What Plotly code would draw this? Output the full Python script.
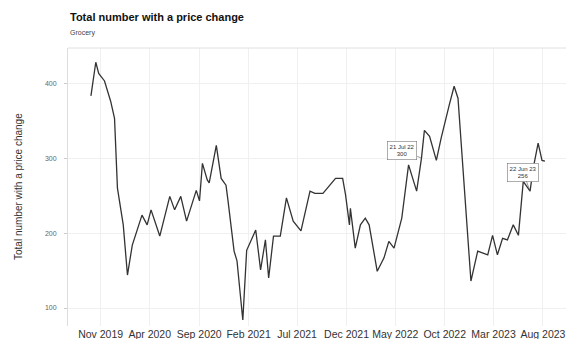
import plotly.graph_objects as go

dates = ["2019-10-02","2019-10-17","2019-10-26","2019-11-13","2019-12-02","2019-12-14","2019-12-23",
"2020-01-10","2020-01-23","2020-02-07","2020-03-08","2020-03-24","2020-04-05","2020-05-02","2020-06-02",
"2020-06-17","2020-07-06","2020-07-24","2020-08-23","2020-09-02","2020-09-11","2020-09-26","2020-10-02",
"2020-10-24","2020-11-08","2020-11-23","2020-11-29","2020-12-18","2020-12-27","2021-01-14","2021-01-26",
"2021-02-23","2021-03-10","2021-03-25","2021-04-04","2021-04-19","2021-05-10","2021-05-29","2021-06-19",
"2021-07-13","2021-08-10","2021-08-25","2021-09-19","2021-10-10","2021-10-28","2021-11-19","2021-11-28",
"2021-12-10","2021-12-13","2021-12-28","2022-01-13","2022-01-28","2022-02-09","2022-03-06","2022-03-27",
"2022-04-11","2022-04-27","2022-05-21","2022-06-11","2022-07-06","2022-07-21","2022-07-30","2022-08-15",
"2022-09-05","2022-09-20","2022-10-15","2022-10-30","2022-11-11","2022-12-21","2023-01-11","2023-02-11",
"2023-02-26","2023-03-13","2023-03-29","2023-04-13","2023-05-01","2023-05-17","2023-06-01","2023-06-22",
"2023-07-02","2023-07-17","2023-07-29","2023-08-07"]
values = [383,428,413,403,376,353,260,
211,144,184,224,211,231,196,249,
231,249,216,257,243,293,271,267,
317,273,264,244,176,163,84,177,
204,151,191,140,196,196,247,216,
203,256,253,253,263,273,273,251,
211,233,180,211,220,211,149,167,
189,180,220,291,256,300,337,329,
297,327,371,396,380,136,176,171,
197,171,193,191,211,197,269,256,
287,320,297,296]

tick_dates = ["2019-11-01","2020-04-01","2020-09-01","2021-02-01","2021-07-01",
              "2021-12-01","2022-05-01","2022-10-01","2023-03-01","2023-08-01"]
tick_labels = ["Nov 2019","Apr 2020","Sep 2020","Feb 2021","Jul 2021",
               "Dec 2021","May 2022","Oct 2022","Mar 2023","Aug 2023"]
y_ticks = [100, 200, 300, 400]

annot_dates = ["2022-07-21", "2023-06-22"]
annot_vals = [300, 256]
annot_text = ["21 Jul 22<br>300", "22 Jun 23<br>256"]
annot_offsets = [(-19, -8), (-7, -19)]

fig = go.Figure()
fig.add_trace(go.Scatter(x=dates, y=values, mode="lines",
                         line=dict(color="#333333", width=1.3), showlegend=False))

for d, v, t, (ax, ay) in zip(annot_dates, annot_vals, annot_text, annot_offsets):
    fig.add_annotation(x=d, y=v, text=t, showarrow=True, arrowhead=0, arrowwidth=0.6,
                       arrowcolor="#555", ax=ax, ay=ay, xanchor="center",
                       font=dict(size=6, color="#333", family="Liberation Sans"),
                       bordercolor="#777", borderwidth=0.6, bgcolor="white", borderpad=2)

fig.add_annotation(xref="paper", yref="paper", x=0, y=1, yshift=23, xanchor="left", yanchor="bottom",
                   text="<b>Total number with a price change</b>", showarrow=False,
                   font=dict(size=11, color="#111", family="Liberation Sans"))
fig.add_annotation(xref="paper", yref="paper", x=0, y=1, yshift=9, xanchor="left", yanchor="bottom",
                   text="Grocery", showarrow=False,
                   font=dict(size=7, color="#444", family="Liberation Sans"))
fig.add_annotation(xref="paper", yref="paper", x=0, y=0.5, xshift=-50, xanchor="center", yanchor="middle",
                   text="Total number with a price change", showarrow=False, textangle=-90,
                   font=dict(size=10, color="#333", family="Liberation Sans"))

fig.update_layout(
    width=574, height=339,
    margin=dict(l=60, r=8, t=40, b=21),
    paper_bgcolor="white", plot_bgcolor="white",
    font=dict(family="Liberation Sans", color="#333"),
    xaxis=dict(range=["2019-07-23", "2023-11-05"], tickvals=tick_dates, ticktext=tick_labels,
               tickfont=dict(size=10.5, color="#333"), showgrid=True, gridcolor="#f0f0f0",
               gridwidth=1, showline=False, zeroline=False, ticks="", tickangle=0,
               automargin=False, ticklabelstandoff=0),
    yaxis=dict(range=[76, 447], tickvals=y_ticks, tickfont=dict(size=7, color="#666"),
               showgrid=True, gridcolor="#f0f0f0", zeroline=False, showline=True,
               linecolor="#dddddd", ticks="outside", ticklen=3, tickcolor="#ccc",
               automargin=False, ticklabelstandoff=6),
    shapes=[dict(type="line", xref="paper", yref="paper", x0=0, x1=1, y0=1, y1=1,
                 line=dict(color="#e0e0e0", width=1))],
)

fig.write_html("out.html")
